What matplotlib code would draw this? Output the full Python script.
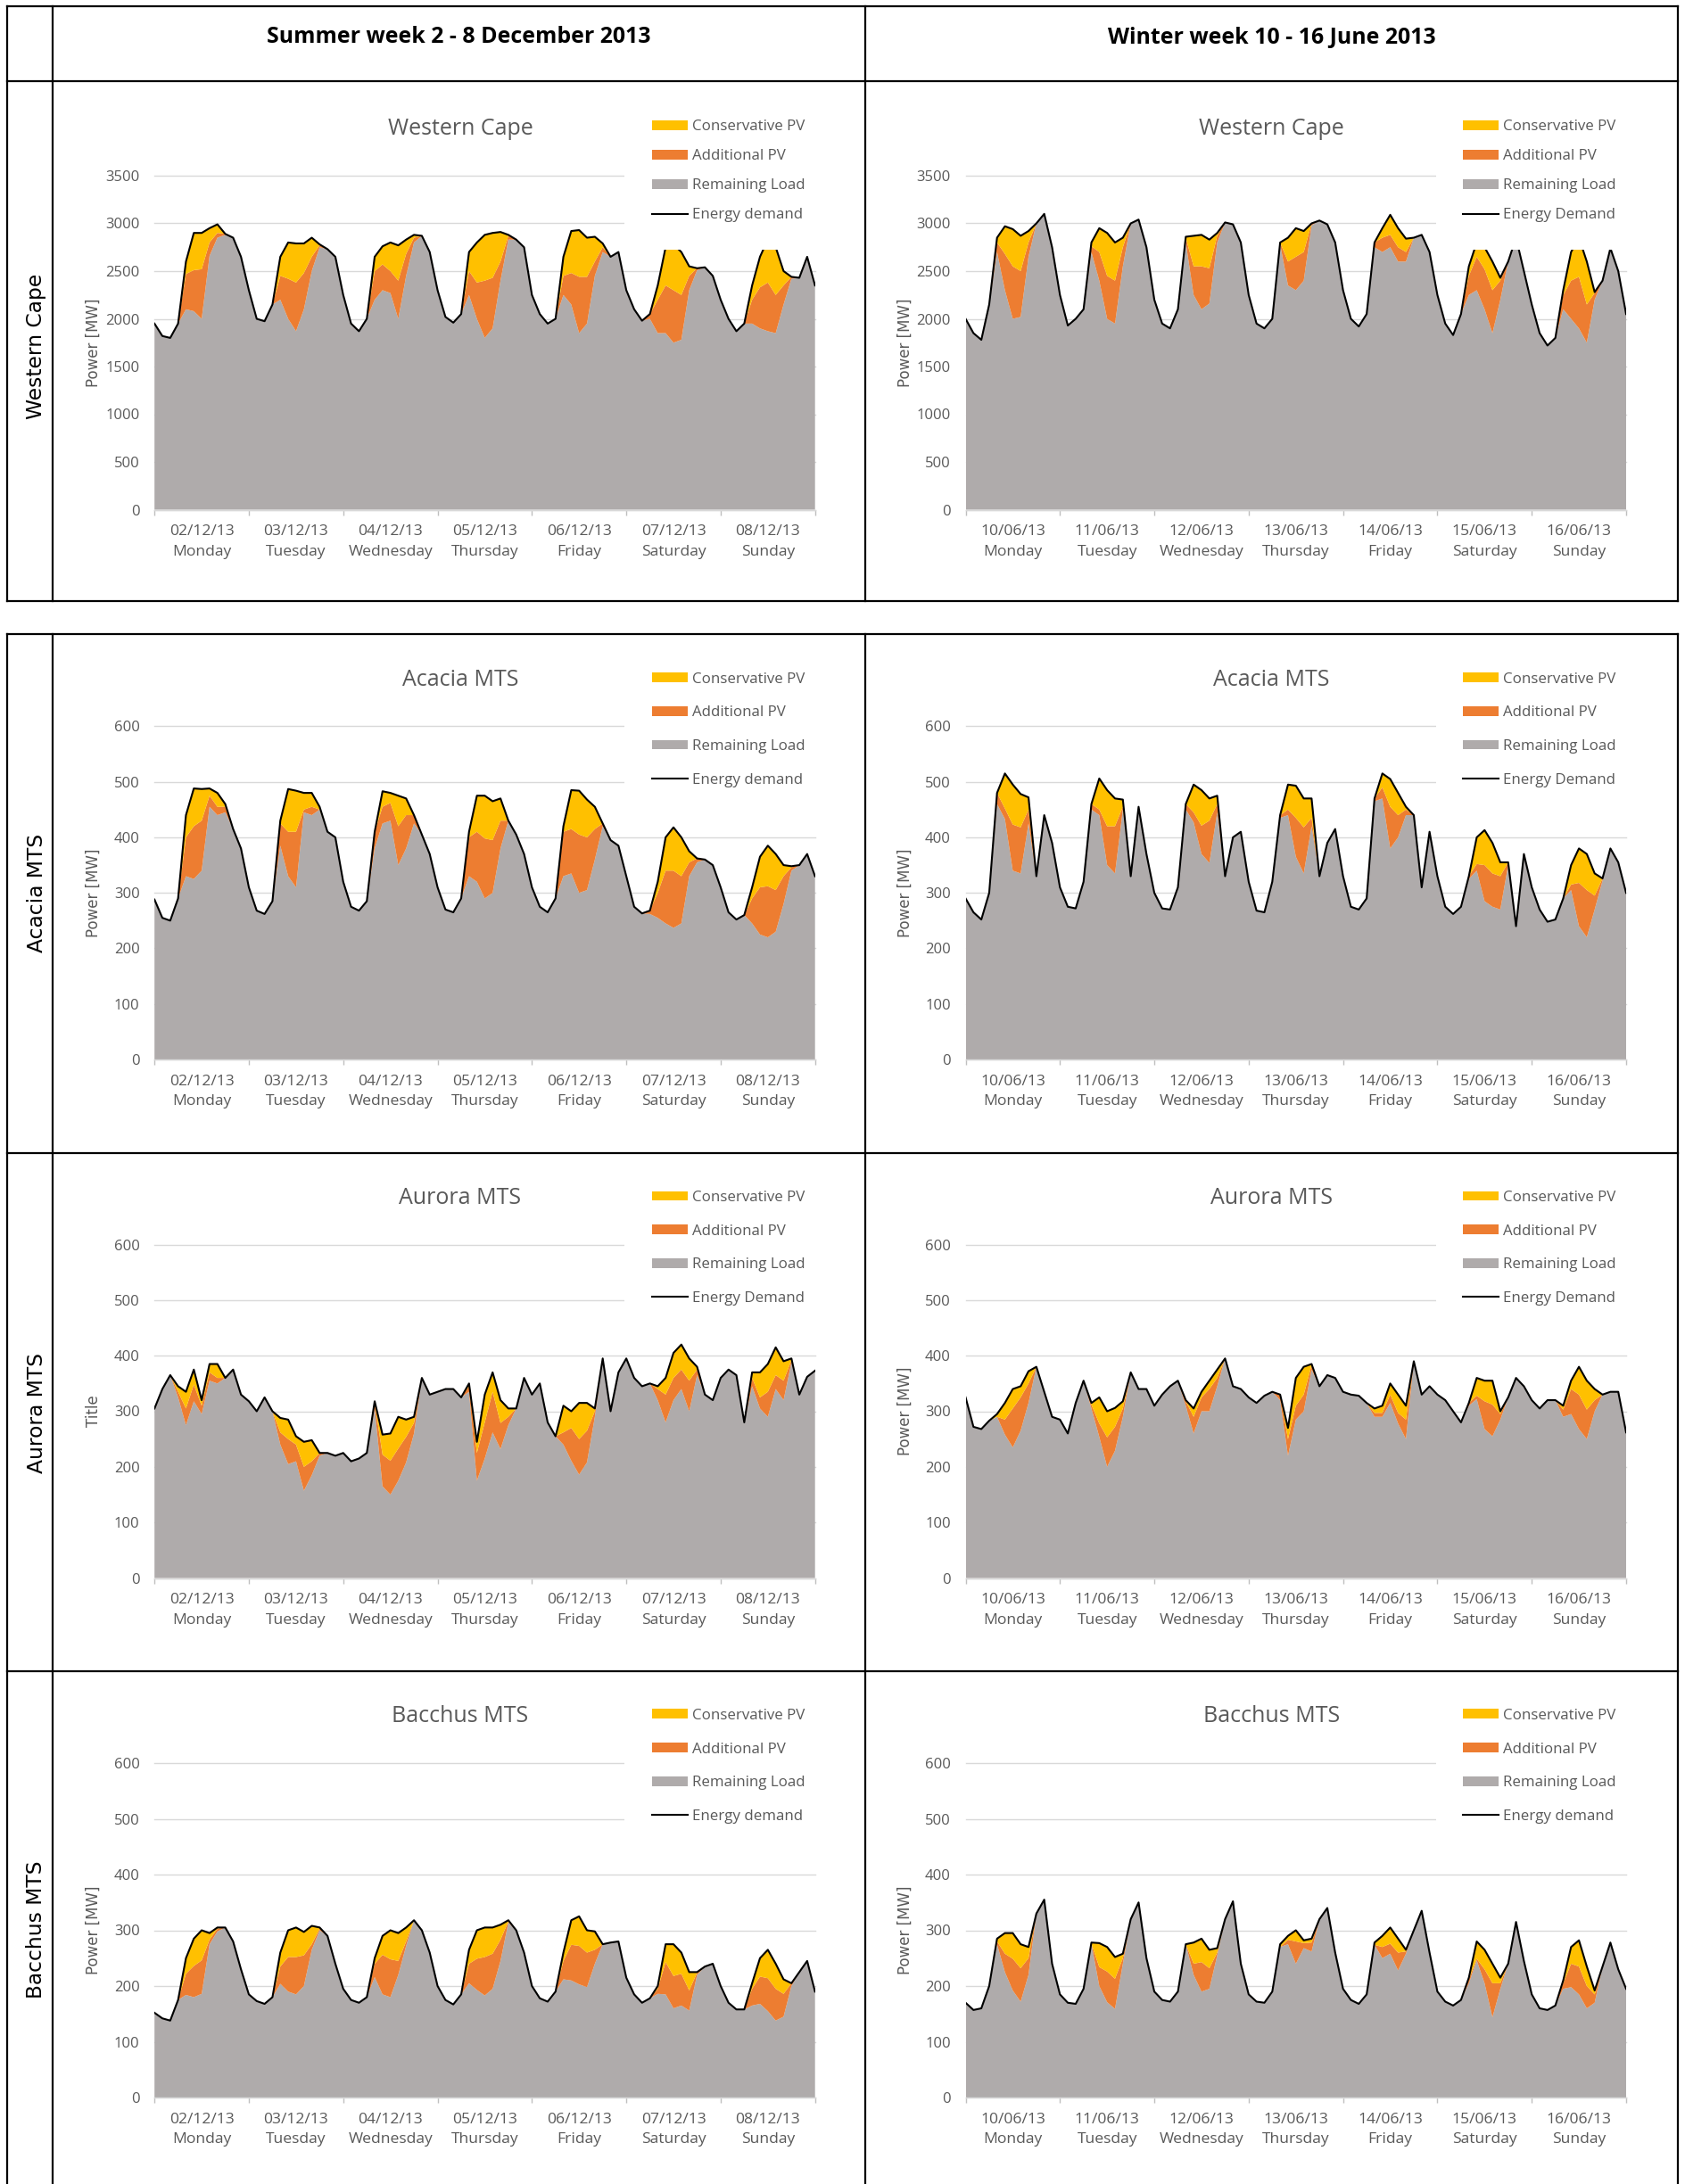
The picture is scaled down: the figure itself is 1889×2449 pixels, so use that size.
import numpy as np
import matplotlib
matplotlib.use("Agg")
import matplotlib.pyplot as plt
from matplotlib.patches import Patch
from matplotlib.lines import Line2D

plt.rcParams['font.family'] = ['Open Sans', 'DejaVu Sans']

# ---------------------------------------------------------------------------
# Data: two-hourly values over one week (hours 0, 2, ..., 168)
# ---------------------------------------------------------------------------
HOURS = np.arange(0, 169, 2)

summer_dates = ['02/12/13', '03/12/13', '04/12/13', '05/12/13', '06/12/13', '07/12/13', '08/12/13']
winter_dates = ['10/06/13', '11/06/13', '12/06/13', '13/06/13', '14/06/13', '15/06/13', '16/06/13']
weekdays = ['Monday', 'Tuesday', 'Wednesday', 'Thursday', 'Friday', 'Saturday', 'Sunday']

# Western Cape, summer week [MW]
wc_summer_demand = [
    1950, 1820, 1800, 1950, 2600, 2900, 2900, 2950, 2990, 2890, 2850, 2650,
    2300, 2000, 1975, 2150, 2650, 2800, 2790, 2790, 2850, 2780, 2730, 2650,
    2250, 1950, 1870, 2000, 2650, 2760, 2800, 2770, 2830, 2880, 2870, 2700,
    2300, 2020, 1960, 2050, 2700, 2800, 2880, 2900, 2910, 2880, 2830, 2750,
    2250, 2050, 1950, 2000, 2650, 2920, 2930, 2850, 2860, 2790, 2650, 2700,
    2300, 2100, 1980, 2050, 2350, 2750, 2780, 2700, 2550, 2530, 2540, 2450,
    2200, 2000, 1870, 1950, 2350, 2650, 2830, 2750, 2500, 2440, 2430, 2650,
    2350]
wc_summer_add_pv = [
    0, 0, 0, 0, 370, 430, 520, 140, 50, 10, 0, 0,
    0, 0, 0, 0, 250, 420, 510, 380, 150, 20, 0, 0,
    0, 0, 0, 0, 300, 270, 230, 400, 230, 50, 0, 0,
    0, 0, 0, 0, 250, 380, 600, 530, 200, 40, 0, 0,
    0, 0, 0, 0, 200, 330, 590, 490, 150, 50, 0, 0,
    0, 0, 0, 50, 350, 500, 550, 470, 150, 20, 0, 0,
    0, 0, 0, 0, 250, 430, 510, 400, 200, 20, 0, 0,
    0]
wc_summer_cons_pv = [
    0, 0, 0, 0, 130, 390, 380, 150, 90, 0, 0, 0,
    0, 0, 0, 0, 200, 380, 410, 310, 200, 10, 0, 0,
    0, 0, 0, 0, 150, 190, 300, 370, 150, 30, 0, 0,
    0, 0, 0, 0, 200, 420, 480, 470, 310, 10, 0, 0,
    0, 0, 0, 0, 200, 440, 490, 410, 260, 40, 0, 0,
    0, 0, 0, 0, 150, 400, 480, 450, 100, 0, 0, 0,
    0, 0, 0, 0, 150, 320, 450, 500, 150, 0, 0, 0,
    0]

# Western Cape, winter week [MW]
wc_winter_demand = [
    2000, 1850, 1780, 2150, 2850, 2970, 2940, 2870, 2920, 3000, 3100, 2750,
    2250, 1930, 2000, 2100, 2800, 2950, 2900, 2800, 2850, 3000, 3040, 2750,
    2200, 1950, 1900, 2100, 2860, 2870, 2880, 2830, 2900, 3010, 2990, 2800,
    2250, 1950, 1900, 2000, 2800, 2850, 2950, 2920, 3000, 3030, 2990, 2800,
    2300, 2000, 1920, 2050, 2800, 2950, 3090, 2950, 2840, 2850, 2880, 2700,
    2250, 1950, 1830, 2050, 2550, 2800, 2750, 2600, 2430, 2600, 2850, 2500,
    2150, 1850, 1720, 1800, 2300, 2700, 2850, 2600, 2280, 2400, 2740, 2500,
    2050]
wc_winter_add_pv = [
    0, 0, 0, 0, 100, 380, 550, 480, 150, 0, 0, 0,
    0, 0, 0, 0, 60, 300, 450, 450, 200, 0, 0, 0,
    0, 0, 0, 0, 50, 300, 450, 370, 70, 0, 0, 0,
    0, 0, 0, 0, 20, 250, 350, 300, 20, 0, 0, 0,
    0, 0, 0, 0, 50, 150, 130, 150, 100, 0, 0, 0,
    0, 0, 0, 0, 200, 350, 420, 450, 200, 0, 0, 0,
    0, 0, 0, 0, 150, 400, 540, 400, 70, 0, 0, 0,
    0]
wc_winter_cons_pv = [
    0, 0, 0, 0, 50, 290, 390, 370, 120, 0, 0, 0,
    0, 0, 0, 0, 40, 250, 450, 400, 100, 0, 0, 0,
    0, 0, 0, 0, 10, 320, 330, 300, 30, 0, 0, 0,
    0, 0, 0, 0, 0, 250, 300, 220, 0, 0, 0, 0,
    0, 0, 0, 0, 0, 100, 210, 200, 140, 0, 0, 0,
    0, 0, 0, 0, 100, 150, 230, 300, 30, 0, 0, 0,
    0, 0, 0, 0, 50, 300, 410, 450, 10, 0, 0, 0,
    0]

# Acacia MTS, summer week [MW]
acacia_summer_demand = [
    288, 255, 250, 290, 440, 488, 487, 488, 480, 460, 415, 380,
    310, 268, 262, 285, 430, 487, 484, 480, 480, 455, 410, 400,
    320, 275, 268, 285, 410, 483, 480, 475, 470, 440, 405, 370,
    310, 270, 265, 290, 410, 475, 475, 465, 470, 430, 405, 370,
    310, 275, 265, 290, 420, 485, 484, 468, 455, 425, 395, 385,
    330, 275, 263, 268, 320, 400, 418, 400, 375, 362, 360, 350,
    310, 265, 252, 260, 310, 365, 385, 370, 350, 348, 350, 370,
    330]
acacia_summer_add_pv = [
    0, 0, 0, 0, 70, 95, 90, 20, 15, 10, 0, 0,
    0, 0, 0, 0, 40, 80, 100, 5, 15, 0, 0, 0,
    0, 0, 0, 0, 30, 30, 32, 70, 60, 15, 0, 0,
    0, 0, 0, 0, 70, 90, 108, 95, 50, 0, 0, 0,
    0, 0, 0, 0, 80, 80, 105, 95, 55, 5, 0, 0,
    0, 0, 0, 6, 45, 95, 103, 85, 25, 7, 0, 0,
    0, 0, 0, 0, 45, 85, 92, 75, 50, 6, 0, 0,
    0]
acacia_summer_cons_pv = [
    0, 0, 0, 0, 40, 68, 57, 13, 25, 5, 0, 0,
    0, 0, 0, 0, 5, 77, 74, 30, 25, 5, 0, 0,
    0, 0, 0, 0, 0, 28, 18, 55, 30, 0, 0, 0,
    0, 0, 0, 0, 10, 65, 77, 70, 40, 0, 0, 0,
    0, 0, 0, 0, 10, 70, 79, 68, 40, 0, 0, 0,
    0, 0, 0, 0, 20, 60, 78, 70, 20, 0, 0, 0,
    0, 0, 0, 0, 20, 55, 73, 65, 20, 2, 0, 0,
    0]

# Acacia MTS, winter week [MW]
acacia_winter_demand = [
    290, 265, 252, 300, 480, 515, 495, 478, 472, 330, 440, 390,
    310, 275, 272, 320, 460, 506, 485, 470, 468, 330, 455, 370,
    300, 272, 270, 310, 460, 495, 485, 470, 475, 330, 400, 410,
    320, 268, 265, 320, 440, 495, 493, 470, 470, 330, 390, 415,
    330, 275, 270, 290, 470, 515, 505, 480, 455, 440, 310, 410,
    330, 275, 262, 275, 330, 400, 413, 390, 355, 355, 240, 370,
    310, 270, 248, 252, 290, 350, 380, 370, 335, 326, 380, 355,
    300]
acacia_winter_add_pv = [
    0, 0, 0, 0, 20, 19, 83, 83, 25, 0, 0, 0,
    0, 0, 0, 0, 10, 10, 70, 85, 5, 0, 0, 0,
    0, 0, 0, 0, 10, 18, 51, 76, 15, 0, 0, 0,
    0, 0, 0, 0, 5, 10, 70, 83, 15, 0, 0, 0,
    0, 0, 0, 0, 5, 20, 75, 40, 10, 0, 0, 0,
    0, 0, 0, 0, 5, 12, 65, 60, 60, 5, 0, 0,
    0, 0, 0, 0, 0, 10, 78, 85, 25, 4, 0, 0,
    0]
acacia_winter_cons_pv = [
    0, 0, 0, 0, 0, 63, 72, 60, 22, 0, 0, 0,
    0, 0, 0, 0, 0, 56, 65, 50, 13, 0, 0, 0,
    0, 0, 0, 0, 0, 50, 64, 40, 15, 0, 0, 0,
    0, 0, 0, 0, 0, 45, 58, 52, 35, 0, 0, 0,
    0, 0, 0, 0, 0, 25, 50, 40, 5, 0, 0, 0,
    0, 0, 0, 0, 0, 48, 63, 55, 25, 0, 0, 0,
    0, 0, 0, 0, 0, 35, 62, 65, 40, 0, 0, 0,
    0]

# Aurora MTS, summer week [MW]
aurora_summer_demand = [
    305, 340, 365, 345, 335, 375, 320, 385, 385, 360, 375, 330,
    318, 300, 325, 300, 288, 285, 255, 245, 248, 225, 225, 220,
    225, 210, 215, 225, 318, 258, 260, 290, 285, 290, 360, 330,
    335, 340, 340, 325, 350, 245, 330, 370, 320, 305, 305, 360,
    330, 350, 280, 255, 310, 300, 315, 315, 305, 395, 300, 370,
    395, 360, 345, 350, 345, 360, 405, 420, 395, 380, 330, 320,
    360, 375, 365, 280, 370, 370, 385, 415, 390, 395, 330, 362,
    373]
aurora_summer_add_pv = [
    0, 0, 0, 10, 30, 30, 15, 15, 10, 0, 0, 0,
    0, 0, 0, 0, 22, 45, 30, 43, 25, 5, 0, 0,
    0, 0, 0, 0, 10, 57, 61, 58, 46, 19, 0, 0,
    0, 0, 0, 0, 10, 50, 65, 73, 47, 15, 0, 0,
    0, 0, 0, 0, 22, 59, 64, 57, 10, 0, 0, 0,
    0, 0, 0, 0, 20, 50, 40, 35, 55, 10, 0, 0,
    0, 0, 0, 0, 15, 20, 45, 25, 35, 4, 0, 0,
    0]
aurora_summer_cons_pv = [
    0, 0, 0, 10, 30, 27, 10, 15, 25, 0, 0, 0,
    0, 0, 0, 0, 26, 35, 15, 45, 38, 0, 0, 0,
    0, 0, 0, 0, 3, 36, 49, 57, 31, 11, 0, 0,
    0, 0, 0, 0, 5, 20, 50, 35, 41, 15, 0, 0,
    0, 0, 0, 0, 48, 30, 65, 50, 5, 0, 0, 0,
    0, 0, 0, 0, 5, 30, 45, 45, 40, 5, 0, 0,
    0, 0, 0, 0, 10, 45, 50, 50, 35, 3, 0, 0,
    0]

# Aurora MTS, winter week [MW]
aurora_winter_demand = [
    325, 272, 268, 283, 295, 315, 340, 345, 372, 380, 335, 290,
    285, 260, 315, 355, 315, 325, 300, 306, 318, 370, 340, 340,
    310, 330, 345, 355, 320, 305, 335, 355, 375, 395, 345, 340,
    325, 315, 328, 335, 330, 270, 360, 380, 385, 345, 365, 360,
    335, 330, 328, 315, 305, 310, 350, 330, 310, 390, 330, 345,
    330, 320, 300, 280, 315, 360, 355, 355, 300, 325, 360, 345,
    320, 305, 320, 320, 310, 355, 380, 355, 340, 330, 335, 335,
    262]
aurora_winter_add_pv = [
    0, 0, 0, 0, 0, 27, 70, 60, 35, 0, 0, 0,
    0, 0, 0, 0, 7, 24, 53, 43, 15, 0, 0, 0,
    0, 0, 0, 0, 8, 30, 25, 40, 15, 0, 0, 0,
    0, 0, 0, 0, 8, 30, 25, 30, 8, 0, 0, 0,
    0, 0, 0, 0, 7, 7, 15, 19, 35, 0, 0, 0,
    0, 0, 0, 0, 5, 6, 50, 57, 10, 0, 0, 0,
    0, 0, 0, 0, 13, 45, 62, 53, 20, 0, 0, 0,
    0]
aurora_winter_cons_pv = [
    0, 0, 0, 0, 5, 30, 35, 20, 22, 0, 0, 0,
    0, 0, 0, 0, 3, 47, 47, 34, 13, 0, 0, 0,
    0, 0, 0, 0, 2, 15, 10, 15, 15, 0, 0, 0,
    0, 0, 0, 0, 2, 20, 50, 50, 2, 0, 0, 0,
    0, 0, 0, 0, 8, 13, 20, 33, 25, 0, 0, 0,
    0, 0, 0, 0, 0, 32, 37, 43, 5, 0, 0, 0,
    0, 0, 0, 0, 7, 15, 50, 52, 20, 0, 0, 0,
    0]

# Bacchus MTS, summer week [MW]
bacchus_summer_demand = [
    152, 142, 138, 175, 250, 285, 300, 295, 305, 305, 280, 230,
    185, 173, 168, 180, 260, 300, 305, 297, 308, 305, 290, 240,
    195, 175, 170, 180, 250, 290, 300, 295, 305, 318, 300, 260,
    200, 175, 167, 185, 265, 300, 305, 305, 310, 318, 300, 260,
    200, 178, 172, 190, 260, 318, 325, 300, 298, 275, 278, 280,
    215, 185, 170, 178, 200, 275, 275, 260, 225, 225, 235, 240,
    200, 170, 158, 158, 205, 250, 265, 240, 212, 205, 225, 245,
    190]
bacchus_summer_add_pv = [
    0, 0, 0, 0, 38, 56, 60, 8, 5, 0, 0, 0,
    0, 0, 0, 0, 31, 62, 67, 55, 10, 3, 0, 0,
    0, 0, 0, 0, 24, 71, 68, 25, 8, 0, 0, 0,
    0, 0, 0, 0, 35, 56, 69, 63, 38, 2, 0, 0,
    0, 0, 0, 0, 33, 64, 69, 62, 25, 0, 0, 0,
    0, 0, 0, 0, 9, 58, 58, 57, 36, 4, 0, 0,
    0, 0, 0, 0, 30, 49, 59, 57, 41, 5, 0, 0,
    0]
bacchus_summer_cons_pv = [
    0, 0, 0, 0, 28, 49, 54, 12, 2, 0, 0, 0,
    0, 0, 0, 0, 25, 48, 53, 42, 33, 2, 0, 0,
    0, 0, 0, 0, 10, 34, 52, 50, 25, 0, 0, 0,
    0, 0, 0, 0, 25, 51, 53, 47, 27, 2, 0, 0,
    0, 0, 0, 0, 15, 44, 53, 40, 33, 0, 0, 0,
    0, 0, 0, 0, 5, 32, 57, 38, 33, 1, 0, 0,
    0, 0, 0, 0, 10, 33, 51, 45, 26, 0, 0, 0,
    0]

# Bacchus MTS, winter week [MW]
bacchus_winter_demand = [
    170, 157, 160, 200, 285, 295, 295, 275, 270, 330, 355, 240,
    185, 170, 168, 195, 278, 277, 270, 252, 258, 320, 350, 250,
    190, 175, 172, 190, 275, 278, 285, 265, 268, 320, 352, 240,
    185, 172, 170, 190, 275, 290, 300, 282, 285, 320, 340, 260,
    195, 175, 168, 185, 278, 290, 305, 285, 265, 300, 335, 260,
    190, 172, 165, 175, 215, 280, 265, 240, 215, 240, 315, 245,
    185, 160, 157, 165, 210, 270, 282, 235, 192, 235, 278, 230,
    195]
bacchus_winter_add_pv = [
    0, 0, 0, 0, 5, 33, 57, 60, 30, 0, 0, 0,
    0, 0, 0, 0, 0, 34, 55, 54, 10, 0, 0, 0,
    0, 0, 0, 0, 0, 20, 53, 37, 5, 0, 0, 0,
    0, 0, 0, 0, 0, 8, 40, 9, 16, 0, 0, 0,
    0, 0, 0, 0, 0, 20, 18, 32, 4, 0, 0, 0,
    0, 0, 0, 0, 7, 3, 25, 61, 10, 0, 0, 0,
    0, 0, 0, 0, 10, 42, 50, 40, 15, 0, 0, 0,
    0]
bacchus_winter_cons_pv = [
    0, 0, 0, 0, 5, 37, 46, 43, 20, 0, 0, 0,
    0, 0, 0, 0, 2, 43, 44, 39, 8, 0, 0, 0,
    0, 0, 0, 0, 0, 38, 42, 33, 8, 0, 0, 0,
    0, 0, 0, 0, 5, 7, 20, 5, 7, 0, 0, 0,
    0, 0, 0, 0, 4, 20, 29, 25, 3, 0, 0, 0,
    0, 0, 0, 0, 3, 31, 35, 35, 10, 0, 0, 0,
    0, 0, 0, 0, 5, 30, 47, 35, 7, 0, 0, 0,
    0]

# ---------------------------------------------------------------------------
# Styling
# ---------------------------------------------------------------------------
YELLOW = '#FFC000'
ORANGE = '#ED7D31'
GREY = '#AFABAB'
TEXT_GREY = '#595959'
GRID_GREY = '#D9D9D9'

W, H = 1890, 2449
fig = plt.figure(figsize=(W / 100, H / 100), dpi=100)
fig.patch.set_facecolor('white')

COL_LEFT = [173.2, 1082.5]
AX_W = 740.5
ROWS = [(197.0, 571.5), (814.4, 1188.0), (1395.5, 1769.5), (1977.0, 2352.0)]
TICK_FS = 12.0
XLABEL_FS = 12.6


def add_axes_px(left, top, bottom, width):
    return fig.add_axes([left / W, 1 - bottom / H, width / W, (bottom - top) / H])


def draw_panel(ax, demand, cons_pv, add_pv, title, ymax, ystep, dates,
               ylabel, demand_label, leg_y, leg_spacing):
    demand = np.asarray(demand, float)
    cons_pv = np.asarray(cons_pv, float)
    add_pv = np.asarray(add_pv, float)
    remaining = demand - cons_pv - add_pv

    ax.stackplot(HOURS, remaining, add_pv, cons_pv,
                 colors=[GREY, ORANGE, YELLOW], linewidth=0, zorder=2)
    ax.plot(HOURS, demand, color='black', lw=1.5, zorder=3,
            solid_joinstyle='round')

    ax.set_xlim(0, 168)
    ax.set_ylim(0, ymax)
    ax.set_facecolor('white')

    for side in ('top', 'left', 'right'):
        ax.spines[side].set_visible(False)
    ax.spines['bottom'].set_color(GRID_GREY)
    ax.spines['bottom'].set_linewidth(1.0)

    ax.set_yticks(np.arange(0, ymax + 1, ystep))
    ax.yaxis.grid(True, color=GRID_GREY, lw=1.0)
    ax.set_axisbelow(True)
    for gl in ax.get_ygridlines():
        gl.set_clip_on(False)
    ax.tick_params(axis='y', length=0, pad=12, labelsize=TICK_FS,
                   labelcolor=TEXT_GREY)

    ax.set_xticks(np.arange(0, 169, 24))
    ax.set_xticklabels([])
    ax.tick_params(axis='x', which='major', length=4, width=1,
                   color='#BFBFBF', direction='out')
    ax.set_xticks(np.arange(12, 168, 24), minor=True)
    ax.set_xticklabels([f'{d}\n{w}' for d, w in zip(dates, weekdays)],
                       minor=True)
    ax.tick_params(axis='x', which='minor', length=0, pad=12,
                   labelsize=XLABEL_FS, labelcolor=TEXT_GREY)
    for t in ax.get_xticklabels(minor=True):
        t.set_linespacing(1.55)

    ax.text(0.463, 1.139, title, transform=ax.transAxes, ha='center',
            va='center', fontsize=18, color=TEXT_GREY)
    ax.text(-0.092, 0.5, ylabel, transform=ax.transAxes, rotation=90,
            ha='center', va='center', fontsize=12, color=TEXT_GREY,
            family='DejaVu Sans')

    handles = [Patch(facecolor=YELLOW, edgecolor='none'),
               Patch(facecolor=ORANGE, edgecolor='none'),
               Patch(facecolor=GREY, edgecolor='none'),
               Line2D([], [], color='black', lw=1.5)]
    labels = ['Conservative PV', 'Additional PV', 'Remaining Load', demand_label]
    ax.legend(handles, labels, loc='center left', bbox_to_anchor=(0.7117, leg_y),
              bbox_transform=ax.transAxes, frameon=True, facecolor='white',
              edgecolor='none', framealpha=1, fancybox=False,
              borderpad=1.8, borderaxespad=0, handlelength=2.37,
              handleheight=0.6, handletextpad=0.28, labelspacing=leg_spacing,
              fontsize=12.2, labelcolor=TEXT_GREY)


panels = [
    # row, col, title, ymax, step, demand, cons, add, ylabel, demand label, legend y, spacing
    (0, 0, 'Western Cape', 3500, 500, wc_summer_demand, wc_summer_cons_pv, wc_summer_add_pv,
     'Power [MW]', 'Energy demand', 1.0136, 1.0),
    (0, 1, 'Western Cape', 3500, 500, wc_winter_demand, wc_winter_cons_pv, wc_winter_add_pv,
     'Power [MW]', 'Energy Demand', 1.0136, 1.0),
    (1, 0, 'Acacia MTS', 600, 100, acacia_summer_demand, acacia_summer_cons_pv, acacia_summer_add_pv,
     'Power [MW]', 'Energy demand', 0.99, 1.28),
    (1, 1, 'Acacia MTS', 600, 100, acacia_winter_demand, acacia_winter_cons_pv, acacia_winter_add_pv,
     'Power [MW]', 'Energy Demand', 0.99, 1.28),
    (2, 0, 'Aurora MTS', 600, 100, aurora_summer_demand, aurora_summer_cons_pv, aurora_summer_add_pv,
     'Title', 'Energy Demand', 0.989, 1.28),
    (2, 1, 'Aurora MTS', 600, 100, aurora_winter_demand, aurora_winter_cons_pv, aurora_winter_add_pv,
     'Power [MW]', 'Energy Demand', 0.989, 1.28),
    (3, 0, 'Bacchus MTS', 600, 100, bacchus_summer_demand, bacchus_summer_cons_pv, bacchus_summer_add_pv,
     'Power [MW]', 'Energy demand', 0.991, 1.28),
    (3, 1, 'Bacchus MTS', 600, 100, bacchus_winter_demand, bacchus_winter_cons_pv, bacchus_winter_add_pv,
     'Power [MW]', 'Energy demand', 0.991, 1.28),
]

for row, col, title, ymax, step, dem, cons, add, ylab, dlab, ly, lsp in panels:
    top, bottom = ROWS[row]
    ax = add_axes_px(COL_LEFT[col], top, bottom, AX_W)
    dates = summer_dates if col == 0 else winter_dates
    draw_panel(ax, dem, cons, add, title, ymax, step, dates, ylab, dlab, ly, lsp)

# ---------------------------------------------------------------------------
# Table frame, column headers and row labels
# ---------------------------------------------------------------------------
def hline(y, x0=8, x1=1881):
    fig.add_artist(Line2D([x0 / W, x1 / W], [1 - y / H, 1 - y / H],
                          transform=fig.transFigure, color='black', lw=1.6,
                          zorder=20, solid_capstyle='projecting'))


def vline(x, y0, y1):
    fig.add_artist(Line2D([x / W, x / W], [1 - y0 / H, 1 - y1 / H],
                          transform=fig.transFigure, color='black', lw=1.6,
                          zorder=20, solid_capstyle='projecting'))


for y in (7, 91, 674, 711, 1293, 1874):
    hline(y)
for x in (8, 59, 970, 1881):
    vline(x, 7, 674)
    vline(x, 711, H)

fig.text(514.5 / W, 1 - 42 / H, 'Summer week 2 - 8 December 2013', ha='center',
         va='center', fontsize=17.9, fontweight='bold', color='black')
fig.text(1425.5 / W, 1 - 42 / H, 'Winter week 10 - 16 June 2013', ha='center',
         va='center', fontsize=17.9, fontweight='bold', color='black')

for label, yc in (('Western Cape', 388), ('Acacia MTS', 1001),
                  ('Aurora MTS', 1584), ('Bacchus MTS', 2164)):
    fig.text(41 / W, 1 - yc / H, label, rotation=90, ha='center', va='center',
             fontsize=16.8, color='black', family='DejaVu Sans')

fig.savefig('out.png', dpi=100, facecolor='white')
